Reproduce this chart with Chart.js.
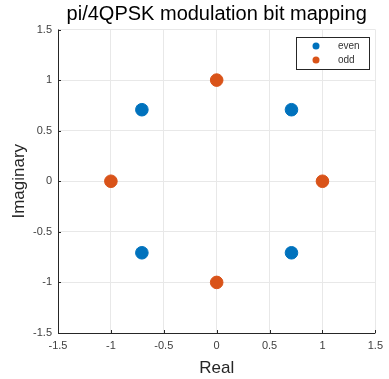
<!DOCTYPE html>
<html>
<head>
<meta charset="utf-8">
<script src="https://cdn.jsdelivr.net/npm/chart.js@4"></script>
<style>
  html, body { margin: 0; padding: 0; background: #fff; }
  #wrap { width: 389px; height: 379px; }
</style>
</head>
<body>
<div id="wrap"><canvas id="chart" width="389" height="379"></canvas></div>
<script>
// constellation points
const evenRe = [0.7071, -0.7071, -0.7071, 0.7071];
const evenIm = [0.7071, 0.7071, -0.7071, -0.7071];
const oddRe = [1, 0, -1, 0];
const oddIm = [0, 1, 0, -1];
const tickValues = [-1.5, -1, -0.5, 0, 0.5, 1, 1.5];

const FONT = "'Liberation Sans', Arial, sans-serif";
const BLUE = '#0072BD';
const ORANGE = '#D95319';

const toPoints = (xs, ys) => xs.map((x, i) => ({ x: x, y: ys[i] }));

// MATLAB style: inward ticks + legend box in the upper right corner
const matlabPlugin = {
    id: 'matlab',
    afterDatasetsDraw(chart) {
        const { ctx, scales, chartArea } = chart;
        ctx.save();
        ctx.strokeStyle = '#262626';
        ctx.lineWidth = 1;

        // axis lines (left + bottom only)
        ctx.beginPath();
        ctx.moveTo(chartArea.left + 0.5, chartArea.top);
        ctx.lineTo(chartArea.left + 0.5, chartArea.bottom + 0.5);
        ctx.lineTo(chartArea.right, chartArea.bottom + 0.5);
        ctx.stroke();

        // inward ticks
        ctx.beginPath();
        tickValues.forEach(v => {
            const px = Math.round(scales.x.getPixelForValue(v)) + 0.5;
            ctx.moveTo(px, chartArea.bottom);
            ctx.lineTo(px, chartArea.bottom - 3);
            const py = Math.round(scales.y.getPixelForValue(v)) + 0.5;
            ctx.moveTo(chartArea.left, py);
            ctx.lineTo(chartArea.left + 3, py);
        });
        ctx.stroke();

        // legend
        const bx = 296, by = 37, bw = 73, bh = 32;
        ctx.fillStyle = '#fff';
        ctx.fillRect(bx, by, bw, bh);
        ctx.strokeStyle = '#262626';
        ctx.strokeRect(bx + 0.5, by + 0.5, bw, bh);
        ctx.font = '10px ' + FONT;
        ctx.textBaseline = 'middle';
        chart.data.datasets.forEach((ds, i) => {
            const cy = by + 9 + i * 14;
            ctx.fillStyle = ds.backgroundColor;
            ctx.beginPath();
            ctx.arc(bx + 20, cy, 3.5, 0, Math.PI * 2);
            ctx.fill();
            ctx.fillStyle = '#333';
            ctx.fillText(ds.label, bx + 42, cy);
        });
        ctx.restore();
    }
};

const tickFormat = v => String(v);

new Chart(document.getElementById('chart').getContext('2d'), {
    type: 'scatter',
    data: {
        datasets: [{
            label: 'even',
            data: toPoints(evenRe, evenIm),
            backgroundColor: BLUE,
            borderColor: BLUE,
            pointRadius: 6.3,
            pointHoverRadius: 6.3
        },
        {
            label: 'odd',
            data: toPoints(oddRe, oddIm),
            backgroundColor: ORANGE,
            borderColor: ORANGE,
            pointRadius: 6.3,
            pointHoverRadius: 6.3
        }]
    },
    options: {
        responsive: false,
        animation: false,
        layout: { padding: { left: 0, right: 10, top: 0, bottom: 0 } },
        plugins: {
            legend: { display: false },
            tooltip: { enabled: false },
            title: {
                display: true,
                fullSize: false,   // centre over the plot area like MATLAB
                text: 'pi/4QPSK modulation bit mapping',
                color: '#000',
                font: { family: FONT, size: 20, weight: 'normal' },
                padding: { top: 2, bottom: 3.5 }
            }
        },
        scales: {
            x: {
                type: 'linear',
                min: -1.5,
                max: 1.5,
                afterBuildTicks: s => { s.ticks = tickValues.map(v => ({ value: v })); },
                afterFit: s => { s.height = 46; },
                grid: { color: '#e8e8e8', drawTicks: false },
                border: { display: false },
                ticks: {
                    color: '#404040',
                    padding: 6,
                    maxRotation: 0,
                    callback: tickFormat,
                    font: { family: FONT, size: 11 }
                },
                title: {
                    display: true,
                    text: 'Real',
                    color: '#262626',
                    font: { family: FONT, size: 17 },
                    padding: { top: 1, bottom: 0 }
                }
            },
            y: {
                type: 'linear',
                min: -1.5,
                max: 1.5,
                afterBuildTicks: s => { s.ticks = tickValues.map(v => ({ value: v })); },
                afterFit: s => { s.width = 58; },
                grid: { color: '#e8e8e8', drawTicks: false },
                border: { display: false },
                ticks: {
                    color: '#404040',
                    padding: 6,
                    callback: tickFormat,
                    font: { family: FONT, size: 11 }
                },
                title: {
                    display: true,
                    text: 'Imaginary',
                    color: '#262626',
                    font: { family: FONT, size: 17 },
                    padding: { top: 9, bottom: 4 }
                }
            }
        }
    },
    plugins: [matlabPlugin]
});
</script>
</body>
</html>
